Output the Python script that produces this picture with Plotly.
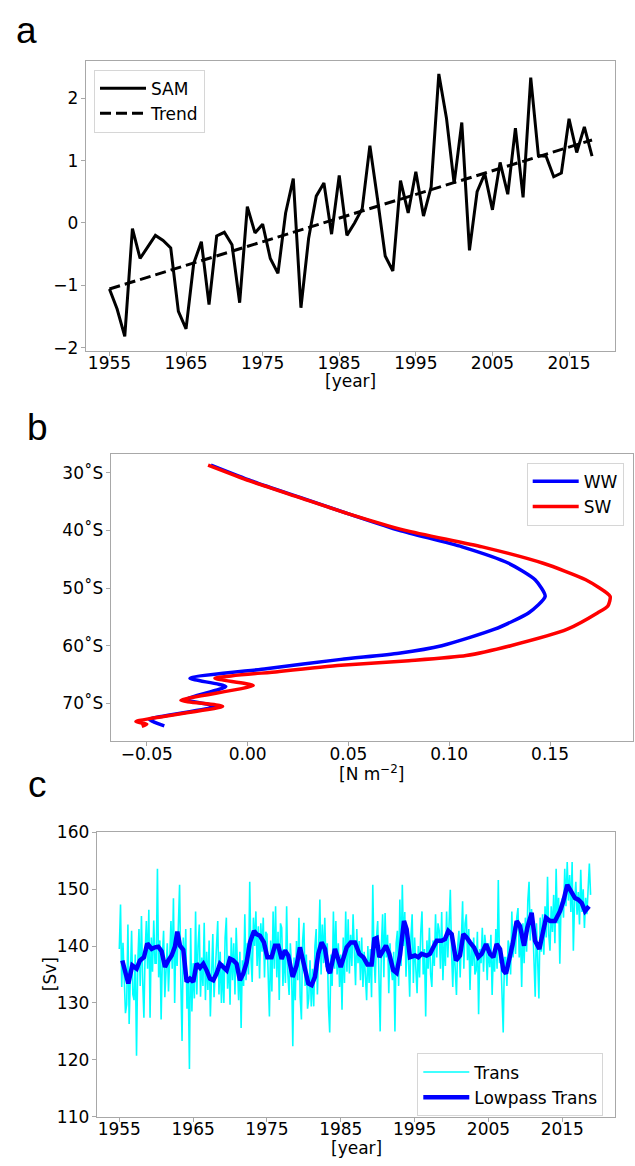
import plotly.graph_objects as go

W, H = 635, 1166

# ---------------- Panel a : SAM index ----------------
sam_years = list(range(1955, 2019))
sam_values = [
    -1.06, -1.38, -1.82, -0.09, -0.57, -0.39, -0.20, -0.28, -0.40, -1.42,
    -1.70, -0.65, -0.30, -1.31, -0.21, -0.15, -0.35, -1.28, 0.26, -0.16,
    -0.02, -0.57, -0.81, 0.16, 0.71, -1.36, -0.25, 0.43, 0.64, -0.18,
    0.76, -0.20, 0.00, 0.23, 1.24, 0.38, -0.53, -0.77, 0.68, 0.16,
    0.82, 0.11, 0.58, 2.39, 1.68, 0.63, 1.61, -0.44, 0.50, 0.79,
    0.21, 0.97, 0.46, 1.52, 0.41, 2.33, 1.08, 1.07, 0.74, 0.80,
    1.67, 1.13, 1.54, 1.07,
]
trend_years = [1955, 2018]
trend_values = [-1.06, 1.33]
year_ticks = [1955, 1965, 1975, 1985, 1995, 2005, 2015]

# ---------------- Panel b : wind stress profiles ----------------
lat_ww = [28.69, 31.43, 34.29, 37.14, 40.00, 42.86, 45.71, 48.57, 51.43, 54.29,
          57.14, 60.00, 61.30, 62.37, 64.00, 65.66, 67.07, 69.35, 70.50, 72.76,
          73.30, 73.90]
ww_stress = [-0.0182, 0.0019, 0.0260, 0.0501, 0.0752, 0.1064, 0.1295, 0.1426, 0.1476, 0.1395,
             0.1225, 0.0963, 0.0750, 0.0463, 0.0092, -0.0286, -0.0108, -0.0306, -0.0157, -0.0488,
             -0.0460, -0.0413]
lat_sw = [28.69, 31.43, 34.29, 37.14, 40.00, 42.86, 45.71, 48.57, 51.43, 53.10,
          54.29, 57.14, 60.00, 61.71, 62.60, 63.40, 64.50, 65.66, 66.90, 69.46,
          70.50, 73.15, 73.60, 74.00]
sw_stress = [-0.0196, 0.0010, 0.0255, 0.0501, 0.0782, 0.1164, 0.1466, 0.1677, 0.1798, 0.1787,
             0.1737, 0.1586, 0.1305, 0.1084, 0.0800, 0.0463, 0.0149, -0.0162, 0.0028, -0.0331,
             -0.0124, -0.0554, -0.0500, -0.0525]
lat_tick_vals = [-30, -40, -50, -60, -70]
lat_tick_text = ["30˚S", "40˚S", "50˚S", "60˚S", "70˚S"]
stress_ticks = [-0.05, 0.00, 0.05, 0.10, 0.15]

# ---------------- Panel c : transport ----------------
trans_years = list(range(1955, 2019))
trans_per_year = [
    [139.5, 147.3, 132.8, 140.6, 134.5, 128.2],
    [129.7, 143.8, 126.3, 134.0, 142.7, 131.5],
    [130.5, 138.5, 120.7, 137.0, 143.0, 133.0],
    [145.3, 134.0, 127.4, 139.0, 144.4, 136.0],
    [146.4, 127.4, 141.5, 135.5, 144.5, 137.0],
    [137.0, 153.6, 134.5, 141.0, 127.1, 138.0],
    [142.7, 131.0, 136.0, 140.5, 132.0, 138.5],
    [144.4, 136.0, 148.4, 130.0, 142.0, 136.5],
    [145.8, 150.8, 134.0, 123.3, 141.5, 135.0],
    [143.0, 129.0, 134.0, 118.4, 143.2, 128.5],
    [137.0, 130.8, 146.1, 131.5, 140.0, 143.8],
    [131.1, 138.0, 133.0, 144.1, 130.5, 139.0],
    [132.3, 141.0, 127.6, 135.5, 142.1, 131.0],
    [136.0, 140.0, 144.4, 131.5, 139.0, 130.0],
    [137.0, 130.0, 141.5, 145.0, 132.5, 138.0],
    [129.7, 141.5, 134.0, 140.5, 131.5, 143.2],
    [136.0, 130.5, 139.0, 125.6, 137.5, 133.0],
    [145.6, 134.0, 140.5, 135.0, 151.3, 138.0],
    [133.7, 145.0, 140.0, 146.1, 136.5, 143.5],
    [134.3, 144.0, 139.0, 145.0, 134.5, 142.5],
    [142.1, 135.0, 127.6, 141.0, 132.0, 146.1],
    [136.0, 147.0, 134.5, 142.5, 130.5, 144.0],
    [143.2, 133.0, 139.5, 133.5, 147.0, 135.0],
    [131.4, 140.5, 136.0, 122.4, 138.0, 130.5],
    [140.9, 134.0, 145.0, 131.0, 127.1, 141.0],
    [144.1, 133.0, 138.5, 129.0, 130.8, 137.5],
    [129.4, 136.0, 129.4, 140.0, 143.0, 131.5],
    [141.0, 148.2, 135.0, 143.8, 137.0, 145.0],
    [136.3, 140.5, 129.4, 124.8, 138.5, 133.0],
    [146.1, 136.0, 144.4, 135.0, 140.5, 132.8],
    [138.5, 128.8, 141.5, 133.5, 146.1, 135.5],
    [144.7, 135.2, 142.0, 136.5, 145.6, 137.0],
    [133.1, 143.0, 137.0, 140.9, 134.0, 141.5],
    [132.8, 139.0, 135.5, 130.5, 140.0, 133.5],
    [139.5, 131.0, 150.8, 138.0, 133.5, 141.5],
    [144.4, 136.0, 125.0, 140.0, 145.6, 134.5],
    [145.8, 138.0, 142.0, 131.7, 140.5, 136.0],
    [134.0, 139.0, 125.0, 140.5, 142.7, 133.0],
    [148.2, 136.5, 150.8, 140.0, 146.0, 134.6],
    [142.0, 138.0, 131.1, 141.5, 145.6, 133.5],
    [141.5, 136.0, 131.7, 140.0, 134.5, 142.5],
    [146.1, 135.0, 139.5, 127.6, 141.0, 136.0],
    [143.2, 135.0, 132.8, 141.0, 136.5, 145.6],
    [138.0, 144.0, 142.7, 136.0, 146.0, 134.0],
    [141.0, 136.5, 146.1, 138.0, 144.0, 149.9],
    [139.0, 132.8, 140.5, 136.0, 131.4, 140.0],
    [142.7, 134.5, 140.0, 147.9, 136.0, 144.0],
    [145.6, 137.5, 143.0, 132.3, 140.0, 136.5],
    [141.5, 135.0, 135.7, 142.5, 128.0, 139.5],
    [137.0, 143.2, 135.5, 142.0, 139.8, 134.0],
    [140.5, 136.3, 142.0, 131.4, 139.0, 135.5],
    [143.0, 136.0, 151.6, 137.0, 138.6, 132.0],
    [124.8, 138.0, 138.0, 133.0, 141.0, 139.8],
    [135.0, 146.1, 138.0, 143.5, 138.6, 145.0],
    [146.7, 138.0, 142.5, 132.8, 144.0, 137.0],
    [145.0, 139.0, 148.0, 151.3, 141.0, 146.5],
    [143.8, 137.5, 131.1, 144.0, 138.0, 130.8],
    [145.0, 139.0, 145.6, 138.5, 147.0, 141.5],
    [152.2, 142.0, 139.2, 147.0, 142.5, 149.0],
    [140.5, 153.6, 144.0, 148.5, 136.9, 147.5],
    [148.4, 145.0, 153.6, 147.0, 154.8, 148.0],
    [152.5, 146.0, 154.8, 139.2, 148.0, 151.3],
    [145.5, 149.5, 143.8, 153.4, 146.0, 150.0],
    [143.2, 148.5, 145.6, 150.0, 154.5, 149.0],
]
lowpass_time = [
    1955.41, 1955.77, 1956.22, 1956.76, 1957.35, 1957.80, 1958.34, 1958.79, 1959.38, 1959.83,
    1960.28, 1960.73, 1961.19, 1961.64, 1962.09, 1962.54, 1962.86, 1963.22, 1963.67, 1964.12,
    1964.57, 1965.02, 1965.47, 1965.93, 1966.38, 1966.83, 1967.28, 1967.73, 1968.18, 1968.63,
    1969.09, 1969.54, 1969.99, 1970.44, 1970.89, 1971.34, 1971.79, 1972.25, 1972.70, 1973.24,
    1973.60, 1974.05, 1974.59, 1975.05, 1975.63, 1976.08, 1976.53, 1976.99, 1977.44, 1977.89,
    1978.48, 1979.02, 1979.47, 1979.83, 1980.15, 1980.60, 1981.05, 1981.50, 1981.95, 1982.40,
    1982.86, 1983.31, 1983.54, 1984.21, 1984.99, 1985.80, 1986.34, 1986.92, 1987.51, 1988.05,
    1988.60, 1989.18, 1989.54, 1989.86, 1990.22, 1990.76, 1991.12, 1991.57, 1992.11, 1992.56,
    1993.02, 1993.56, 1993.92, 1994.37, 1995.05, 1995.50, 1995.95, 1996.63, 1997.08, 1997.53,
    1997.99, 1998.66, 1999.11, 1999.56, 2000.02, 2000.60, 2001.14, 2001.60, 2002.05, 2002.50,
    2003.04, 2003.63, 2004.08, 2004.67, 2005.21, 2005.66, 2006.11, 2006.57, 2007.02, 2007.38,
    2007.92, 2008.28, 2008.82, 2009.27, 2009.82, 2010.27, 2010.85, 2011.31, 2011.89, 2012.34,
    2012.80, 2013.34, 2014.01, 2014.69, 2015.14, 2015.68, 2016.13, 2016.72, 2017.17, 2017.63,
    2018.08, 2018.62,
]
lowpass_values = [
    137.47, 135.74, 133.43, 136.60, 136.03, 137.47, 138.05, 140.47, 139.49, 139.78,
    139.90, 139.09, 136.31, 137.47, 138.34, 139.90, 142.55, 140.07, 139.32, 133.71,
    134.29, 133.71, 136.89, 136.20, 136.89, 135.74, 134.29, 134.00, 135.16, 136.89,
    136.20, 135.74, 137.76, 137.47, 136.89, 134.00, 135.16, 137.18, 140.65, 142.67,
    142.09, 141.80, 140.65, 138.05, 138.05, 140.07, 140.07, 137.76, 139.20, 138.34,
    134.58, 136.60, 139.78, 137.76, 135.16, 133.43, 133.14, 134.58, 138.62, 140.65,
    139.49, 135.74, 135.27, 139.49, 136.31, 139.78, 140.65, 140.65, 138.62, 138.05,
    136.78, 136.78, 141.22, 141.40, 138.05, 139.20, 140.07, 138.62, 135.74, 135.27,
    138.34, 144.40, 142.96, 138.05, 138.34, 138.05, 138.62, 138.34, 138.62, 139.78,
    140.94, 140.94, 141.22, 142.67, 142.09, 137.47, 138.34, 142.09, 141.51, 140.65,
    139.78, 138.05, 138.62, 140.36, 138.62, 138.05, 140.36, 139.49, 135.74, 135.16,
    138.05, 140.36, 144.40, 143.54, 140.07, 143.25, 145.85, 140.94, 139.49, 142.67,
    144.98, 144.40, 144.40, 146.14, 147.87, 150.76, 149.89, 148.45, 148.16, 147.58,
    146.14, 147.00,
]
sv_ticks = [110, 120, 130, 140, 150, 160]

# time axis of the bimonthly transport samples
trans_time = [y + k / 6 for y in trans_years for k in range(6)]
trans_values = [v for row in trans_per_year for v in row]


def px(x):
    return x / W


def py(y):
    return 1 - y / H


FRAME = "#a8a8a8"
TICKFONT = dict(family="DejaVu Sans", size=17, color="black")


def axis(domain, rng, anchor, standoff, **kw):
    d = dict(domain=domain, range=rng, anchor=anchor, showline=True, mirror=True,
             linecolor=FRAME, linewidth=1, ticks="outside", ticklen=4, tickwidth=1,
             tickcolor=FRAME, tickfont=TICKFONT, showgrid=False, zeroline=False,
             ticklabelstandoff=standoff)
    d.update(kw)
    return d


fig = go.Figure()

# panel a
fig.add_trace(go.Scatter(x=sam_years, y=sam_values, mode="lines", name="SAM",
                         line=dict(color="black", width=3), xaxis="x", yaxis="y",
                         legend="legend"))
fig.add_trace(go.Scatter(x=trend_years, y=trend_values, mode="lines", name="Trend",
                         line=dict(color="black", width=3, dash="11px,5px"), xaxis="x", yaxis="y",
                         legend="legend"))

# panel b
fig.add_trace(go.Scatter(x=ww_stress, y=[-v for v in lat_ww], mode="lines", name="WW",
                         line=dict(color="#0000ff", width=3.5, shape="spline", smoothing=0.6),
                         xaxis="x2", yaxis="y2", legend="legend2"))
fig.add_trace(go.Scatter(x=sw_stress, y=[-v for v in lat_sw], mode="lines", name="SW",
                         line=dict(color="#ff0000", width=3.5, shape="spline", smoothing=0.6),
                         xaxis="x2", yaxis="y2", legend="legend2"))

# panel c
fig.add_trace(go.Scatter(x=trans_time, y=trans_values, mode="lines", name="Trans",
                         line=dict(color="#00ffff", width=1.6), xaxis="x3", yaxis="y3",
                         legend="legend3"))
fig.add_trace(go.Scatter(x=lowpass_time, y=lowpass_values, mode="lines", name="Lowpass Trans",
                         line=dict(color="#0000ff", width=4.5), xaxis="x3", yaxis="y3",
                         legend="legend3"))

legend_common = dict(bgcolor="white", bordercolor="#d6d6d6", borderwidth=1,
                     font=dict(family="DejaVu Sans", size=17, color="black"),
                     xanchor="left", yanchor="top", itemwidth=46)

fig.update_layout(
    width=W, height=H, margin=dict(l=0, r=0, t=0, b=0),
    paper_bgcolor="white", plot_bgcolor="white",
    xaxis=axis([px(85.7), px(615)], [1951.9, 2021.0], "y", -7, tickvals=year_ticks),
    yaxis=axis([py(346.7), py(51.7)], [-2.05, 2.60], "x", -1, dtick=1),
    xaxis2=axis([px(110.7), px(633.3)], [-0.0679, 0.1913], "y2", -7,
                tickvals=stress_ticks, tickformat=".2f"),
    yaxis2=axis([py(744), py(451.7)], [-76.56, -26.76], "x2", -1,
                tickvals=lat_tick_vals, ticktext=lat_tick_text),
    xaxis3=axis([px(96.7), px(615)], [1951.94, 2022.14], "y3", -7, tickvals=year_ticks),
    yaxis3=axis([py(1126), py(836.7)], [110, 160], "x3", -1, tickvals=sv_ticks),
    legend=dict(legend_common, x=px(94), y=py(60.7)),
    legend2=dict(legend_common, x=px(526.7), y=py(460.7)),
    legend3=dict(legend_common, x=px(417.3), y=py(1061.7)),
    showlegend=True,
)

annots = [
    ("a", 26, 21, 37, "Liberation Sans", 0),
    ("b", 37, 425, 37, "Liberation Sans", 0),
    ("c", 37, 788, 37, "Liberation Sans", 0),
    ("[year]", 350.3, 377.5, 17, "DejaVu Sans", 0),
    ("[N m<sup>−2</sup>]", 372, 776, 17, "DejaVu Sans", 0),
    ("[year]", 356, 1157.5, 17, "DejaVu Sans", 0),
    ("[Sv]", 50, 981, 17, "DejaVu Sans", -90),
]
for text, x, y, size, fam, ang in annots:
    fig.add_annotation(text=text, x=px(x), y=py(y), xref="paper", yref="paper",
                       xanchor="center", yanchor="middle", showarrow=False, textangle=ang,
                       font=dict(family=fam, size=size, color="black"))

fig.write_html("out.html")
